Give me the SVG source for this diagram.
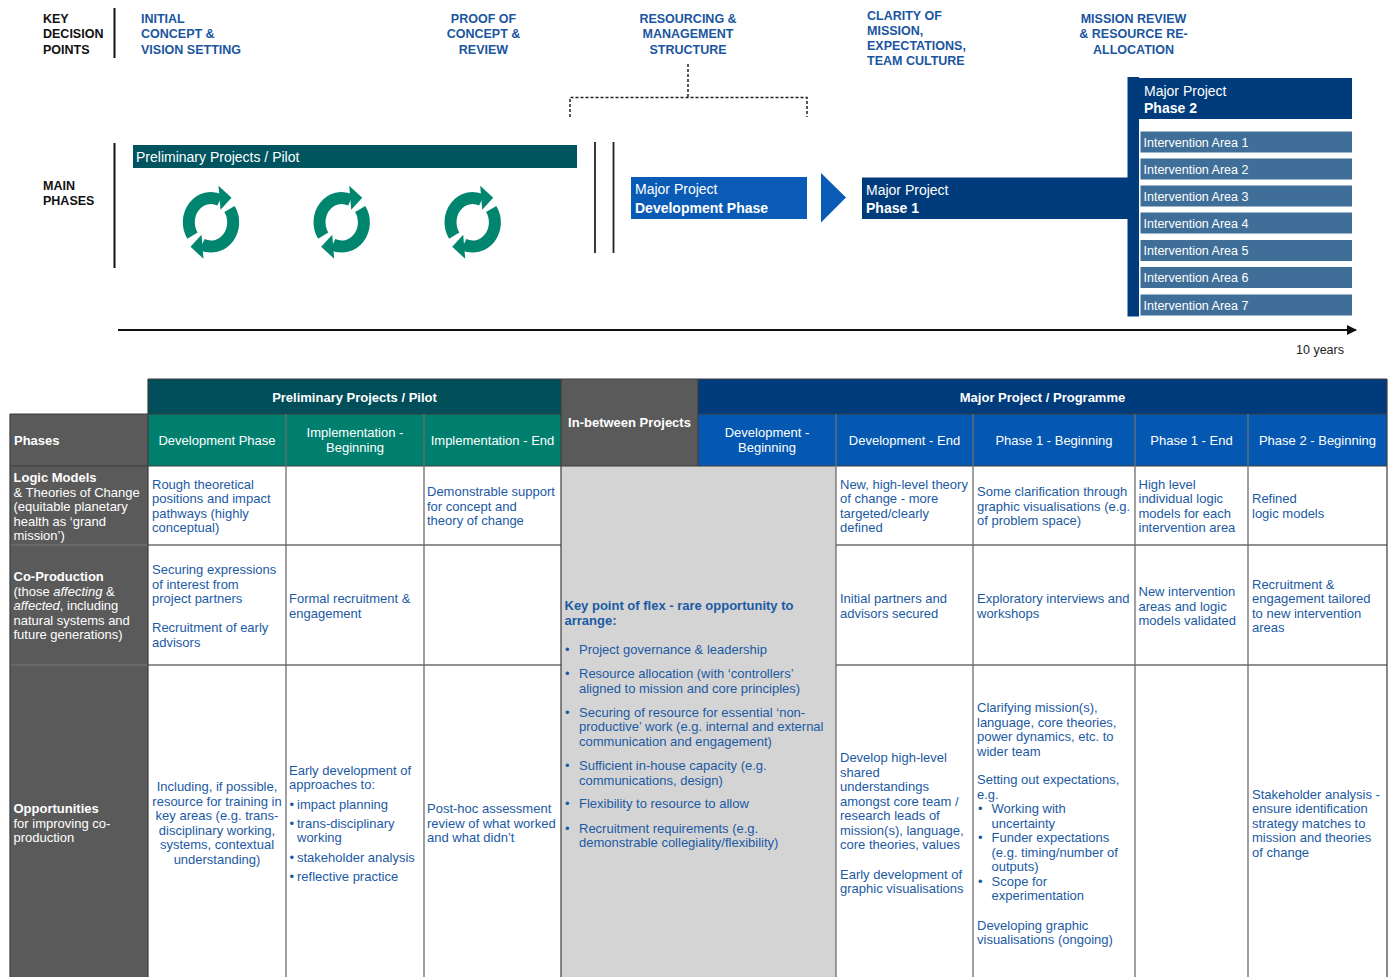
<svg xmlns="http://www.w3.org/2000/svg" width="1391" height="977" viewBox="0 0 1391 977">
<style>
text{font-family:"Liberation Sans",Arial,Helvetica,sans-serif;font-size:13px}
.k{font-size:12.5px;font-weight:bold;fill:#111}
.d{font-size:12.5px;font-weight:bold;fill:#1a55a0}
.w{fill:#fff}
.b{font-weight:bold}
.p{fill:#1b5aa3}
.m{text-anchor:middle}
.bx{font-size:14px;fill:#fff}
.ia{font-size:12.5px;fill:#fff}
.grid{stroke:#6e6e6e;stroke-width:1.3;fill:none}
.hl{stroke:#3c3c3c;stroke-width:1.2;fill:none}
</style>
<defs>
<g id="half">
<path d="M-18.5,13.3 A22.2,24.2 0 0 1 9,-22.2" fill="none" stroke="#00856f" stroke-width="12"/>
<polygon points="7.5,-36.5 20.5,-24.5 9.5,-12.5" fill="#00856f"/>
</g>
<g id="cycle">
<use href="#half"/>
<use href="#half" transform="rotate(180)"/>
</g>
<marker id="ah" viewBox="0 0 10 10" refX="9" refY="5" markerWidth="5" markerHeight="5" orient="auto" markerUnits="strokeWidth">
<path d="M0,0 L10,5 L0,10 z" fill="#111"/>
</marker>
</defs>
<rect width="1391" height="977" fill="#fff"/>

<!-- key decision points -->
<g id="key-decision-points">
<text class="k" x="43" y="23">KEY</text>
<text class="k" x="43" y="38">DECISION</text>
<text class="k" x="43" y="53.5">POINTS</text>
<line x1="114.5" y1="8" x2="114.5" y2="58" stroke="#111" stroke-width="2"/>
</g>
<g id="dp-initial">
<text class="d" x="141" y="23">INITIAL</text>
<text class="d" x="141" y="38">CONCEPT &amp;</text>
<text class="d" x="141" y="53.5">VISION SETTING</text>
</g>
<g id="dp-proof">
<text class="d m" x="483.5" y="23">PROOF OF</text>
<text class="d m" x="483.5" y="38">CONCEPT &amp;</text>
<text class="d m" x="483.5" y="53.5">REVIEW</text>
</g>
<g id="dp-resourcing">
<text class="d m" x="688" y="23">RESOURCING &amp;</text>
<text class="d m" x="688" y="38">MANAGEMENT</text>
<text class="d m" x="688" y="53.5">STRUCTURE</text>
</g>
<g id="dp-clarity">
<text class="d" x="867" y="19.5">CLARITY OF</text>
<text class="d" x="867" y="34.5">MISSION,</text>
<text class="d" x="867" y="49.5">EXPECTATIONS,</text>
<text class="d" x="867" y="64.5">TEAM CULTURE</text>
</g>
<g id="dp-mission-review">
<text class="d m" x="1133.5" y="23">MISSION REVIEW</text>
<text class="d m" x="1133.5" y="38">&amp; RESOURCE RE-</text>
<text class="d m" x="1133.5" y="53.5">ALLOCATION</text>
</g>

<!-- main phases -->
<g id="main-phases">
<text class="k" x="43" y="189.5">MAIN</text>
<text class="k" x="43" y="205">PHASES</text>
<line x1="114.5" y1="143" x2="114.5" y2="268" stroke="#111" stroke-width="2"/>
</g>
<g id="preliminary-pilot">
<rect x="133" y="145" width="444" height="23" fill="#00545f"/>
<text class="bx" x="136" y="162">Preliminary Projects / Pilot</text>
<use href="#cycle" transform="translate(211,222.3)"/>
<use href="#cycle" transform="translate(341.7,222.3)"/>
<use href="#cycle" transform="translate(472.7,222.3)"/>
</g>
<g id="separator">
<line x1="595" y1="142" x2="595" y2="253" stroke="#222" stroke-width="1.8"/>
<line x1="613.5" y1="142" x2="613.5" y2="253" stroke="#222" stroke-width="1.8"/>
</g>
<g id="major-dev-phase">
<rect x="631" y="177" width="176" height="42" fill="#0a5bb5"/>
<text class="bx" x="635" y="194">Major Project</text>
<text class="bx b" x="635" y="212.5">Development Phase</text>
</g>
<g id="major-phase-1">
<rect x="862" y="177.5" width="268" height="41.5" fill="#003b7b"/>
<text class="bx" x="866" y="195">Major Project</text>
<text class="bx b" x="866" y="213">Phase 1</text>
</g>
<g id="phase-bar">
<rect x="1127.5" y="77" width="11.5" height="239.5" fill="#003b7b"/>
</g>
<g id="major-phase-2">
<rect x="1139" y="78" width="213" height="41" fill="#003b7b"/>
<text class="bx" x="1144" y="95.5">Major Project</text>
<text class="bx b" x="1144" y="113">Phase 2</text>
</g>
<g id="intervention-areas">
<rect x="1140.5" y="131.5" width="211.5" height="21" fill="#3f6f99"/>
<text class="ia" x="1143.5" y="146.5">Intervention Area 1</text>
<rect x="1140.5" y="158.5" width="211.5" height="21" fill="#3f6f99"/>
<text class="ia" x="1143.5" y="173.5">Intervention Area 2</text>
<rect x="1140.5" y="185.5" width="211.5" height="21" fill="#3f6f99"/>
<text class="ia" x="1143.5" y="200.5">Intervention Area 3</text>
<rect x="1140.5" y="212.5" width="211.5" height="21" fill="#3f6f99"/>
<text class="ia" x="1143.5" y="227.5">Intervention Area 4</text>
<rect x="1140.5" y="240" width="211.5" height="21" fill="#3f6f99"/>
<text class="ia" x="1143.5" y="255">Intervention Area 5</text>
<rect x="1140.5" y="267" width="211.5" height="21" fill="#3f6f99"/>
<text class="ia" x="1143.5" y="282">Intervention Area 6</text>
<rect x="1140.5" y="294.5" width="211.5" height="21" fill="#3f6f99"/>
<text class="ia" x="1143.5" y="309.5">Intervention Area 7</text>
</g>
<g id="time-label">
<text x="1296" y="354" style="font-size:12.5px;fill:#222">10 years</text>
</g>

<!-- connectors -->
<g id="connectors">
<path d="M688,64 V97.5 M570,117 V97.5 H807 V117" fill="none" stroke="#222" stroke-width="1.5" stroke-dasharray="3,2"/>
<polygon points="821,173 846,197.5 821,222.5" fill="#0a5bb5"/>
<line x1="118" y1="330" x2="1356" y2="330" stroke="#111" stroke-width="2" marker-end="url(#ah)"/>
</g>

<!-- table -->
<g id="table">
<rect x="148" y="379" width="413" height="35" fill="#004e5a"/>
<rect x="561" y="379" width="137" height="87" fill="#5a5a5a"/>
<rect x="698" y="379" width="689" height="35" fill="#003b7b"/>
<rect x="10" y="414" width="138" height="52" fill="#5a5a5a"/>
<rect x="148" y="414" width="413" height="52" fill="#007f6f"/>
<rect x="698" y="414" width="689" height="52" fill="#0458b1"/>
<rect x="10" y="466" width="138" height="511" fill="#5a5a5a"/>
<rect x="561" y="466" width="275" height="511" fill="#d4d4d4"/>

<path class="hl" d="M148,379 H1387 M10,414 H561 M698,414 H1387 M10,466 H1387"/>
<path class="grid" d="M10,545 H561 M836,545 H1387 M10,665 H561 M836,665 H1387"/>
<path class="hl" d="M10,414 V977 M148,379 V977 M561,379 V977 M698,379 V466 M1387,379 V977"/>
<path class="grid" d="M286,414 V977 M424,414 V977 M836,414 V977 M973,414 V977 M1135,414 V977 M1248,414 V977"/>

<text class="w b m" x="354.5" y="401.5">Preliminary Projects / Pilot</text>
<text class="w b m" x="629.5" y="427">In-between Projects</text>
<text class="w b m" x="1042.5" y="401.5">Major Project / Programme</text>
<text class="w b" x="14" y="445">Phases</text>
<text class="w m" x="217" y="444.5">Development Phase</text>
<text class="w m" x="355" y="437">Implementation -</text>
<text class="w m" x="355" y="452">Beginning</text>
<text class="w m" x="492.5" y="444.5">Implementation - End</text>
<text class="w m" x="767" y="437">Development -</text>
<text class="w m" x="767" y="452">Beginning</text>
<text class="w m" x="904.5" y="444.5">Development - End</text>
<text class="w m" x="1054" y="444.5">Phase 1 - Beginning</text>
<text class="w m" x="1191.5" y="444.5">Phase 1 - End</text>
<text class="w m" x="1317.5" y="444.5">Phase 2 - Beginning</text>

<!-- row 1 -->
<text class="w b" x="13.5" y="482">Logic Models</text>
<text class="w" x="13.5" y="496.5">&amp; Theories of Change</text>
<text class="w" x="13.5" y="511">(equitable planetary</text>
<text class="w" x="13.5" y="525.5">health as ‘grand</text>
<text class="w" x="13.5" y="540">mission’)</text>

<text class="p" x="152" y="488.5">Rough theoretical</text>
<text class="p" x="152" y="503">positions and impact</text>
<text class="p" x="152" y="517.5">pathways (highly</text>
<text class="p" x="152" y="532">conceptual)</text>

<text class="p" x="427" y="496">Demonstrable support</text>
<text class="p" x="427" y="510.5">for concept and</text>
<text class="p" x="427" y="525">theory of change</text>

<text class="p" x="840" y="488.5">New, high-level theory</text>
<text class="p" x="840" y="503">of change - more</text>
<text class="p" x="840" y="517.5">targeted/clearly</text>
<text class="p" x="840" y="532">defined</text>

<text class="p" x="977" y="496">Some clarification through</text>
<text class="p" x="977" y="510.5">graphic visualisations (e.g.</text>
<text class="p" x="977" y="525">of problem space)</text>

<text class="p" x="1138.5" y="488.5">High level</text>
<text class="p" x="1138.5" y="503">individual logic</text>
<text class="p" x="1138.5" y="517.5">models for each</text>
<text class="p" x="1138.5" y="532">intervention area</text>

<text class="p" x="1252" y="503">Refined</text>
<text class="p" x="1252" y="517.5">logic models</text>

<!-- row 2 -->
<text class="w b" x="13.5" y="581">Co-Production</text>
<text class="w" x="13.5" y="595.5">(those <tspan font-style="italic">affecting</tspan> &amp;</text>
<text class="w" x="13.5" y="610"><tspan font-style="italic">affected</tspan>, including</text>
<text class="w" x="13.5" y="624.5">natural systems and</text>
<text class="w" x="13.5" y="639">future generations)</text>

<text class="p" x="152" y="574">Securing expressions</text>
<text class="p" x="152" y="588.5">of interest from</text>
<text class="p" x="152" y="603">project partners</text>
<text class="p" x="152" y="632">Recruitment of early</text>
<text class="p" x="152" y="646.5">advisors</text>

<text class="p" x="289" y="603">Formal recruitment &amp;</text>
<text class="p" x="289" y="617.5">engagement</text>

<text class="p" x="840" y="603">Initial partners and</text>
<text class="p" x="840" y="617.5">advisors secured</text>

<text class="p" x="977" y="603">Exploratory interviews and</text>
<text class="p" x="977" y="617.5">workshops</text>

<text class="p" x="1138.5" y="596">New intervention</text>
<text class="p" x="1138.5" y="610.5">areas and logic</text>
<text class="p" x="1138.5" y="625">models validated</text>

<text class="p" x="1252" y="588.5">Recruitment &amp;</text>
<text class="p" x="1252" y="603">engagement tailored</text>
<text class="p" x="1252" y="617.5">to new intervention</text>
<text class="p" x="1252" y="632">areas</text>

<!-- in-between / flex column -->
<text class="p b" x="564.5" y="609.5">Key point of flex - rare opportunity to</text>
<text class="p b" x="564.5" y="625">arrange:</text>
<text class="p" x="565" y="653.5">•</text><text class="p" x="579" y="653.5">Project governance &amp; leadership</text>
<text class="p" x="565" y="678">•</text><text class="p" x="579" y="678">Resource allocation (with ‘controllers’</text>
<text class="p" x="579" y="692.5">aligned to mission and core principles)</text>
<text class="p" x="565" y="716.5">•</text><text class="p" x="579" y="716.5">Securing of resource for essential ‘non-</text>
<text class="p" x="579" y="731">productive’ work (e.g. internal and external</text>
<text class="p" x="579" y="745.5">communication and engagement)</text>
<text class="p" x="565" y="770">•</text><text class="p" x="579" y="770">Sufficient in-house capacity (e.g.</text>
<text class="p" x="579" y="784.5">communications, design)</text>
<text class="p" x="565" y="808">•</text><text class="p" x="579" y="808">Flexibility to resource to allow</text>
<text class="p" x="565" y="832.5">•</text><text class="p" x="579" y="832.5">Recruitment requirements (e.g.</text>
<text class="p" x="579" y="847">demonstrable collegiality/flexibility)</text>

<!-- row 3 -->
<text class="w b" x="13.5" y="813">Opportunities</text>
<text class="w" x="13.5" y="827.5">for improving co-</text>
<text class="w" x="13.5" y="842">production</text>

<text class="p m" x="217" y="791">Including, if possible,</text>
<text class="p m" x="217" y="805.5">resource for training in</text>
<text class="p m" x="217" y="820">key areas (e.g. trans-</text>
<text class="p m" x="217" y="834.5">disciplinary working,</text>
<text class="p m" x="217" y="849">systems, contextual</text>
<text class="p m" x="217" y="864">understanding)</text>

<text class="p" x="289" y="774.5">Early development of</text>
<text class="p" x="289" y="789">approaches to:</text>
<text class="p" x="289.5" y="808.5">•</text><text class="p" x="297" y="808.5">impact planning</text>
<text class="p" x="289.5" y="827.5">•</text><text class="p" x="297" y="827.5">trans-disciplinary</text>
<text class="p" x="297" y="842">working</text>
<text class="p" x="289.5" y="861.5">•</text><text class="p" x="297" y="861.5">stakeholder analysis</text>
<text class="p" x="289.5" y="881">•</text><text class="p" x="297" y="881">reflective practice</text>

<text class="p" x="427" y="813">Post-hoc assessment</text>
<text class="p" x="427" y="827.5">review of what worked</text>
<text class="p" x="427" y="842">and what didn’t</text>

<text class="p" x="840" y="762">Develop high-level</text>
<text class="p" x="840" y="776.5">shared</text>
<text class="p" x="840" y="791">understandings</text>
<text class="p" x="840" y="805.5">amongst core team /</text>
<text class="p" x="840" y="820">research leads of</text>
<text class="p" x="840" y="834.5">mission(s), language,</text>
<text class="p" x="840" y="849">core theories, values</text>
<text class="p" x="840" y="878.5">Early development of</text>
<text class="p" x="840" y="893">graphic visualisations</text>

<text class="p" x="977" y="712">Clarifying mission(s),</text>
<text class="p" x="977" y="726.5">language, core theories,</text>
<text class="p" x="977" y="741">power dynamics, etc. to</text>
<text class="p" x="977" y="755.5">wider team</text>
<text class="p" x="977" y="784">Setting out expectations,</text>
<text class="p" x="977" y="798.5">e.g.</text>
<text class="p" x="978" y="813">•</text><text class="p" x="991.5" y="813">Working with</text>
<text class="p" x="991.5" y="827.5">uncertainty</text>
<text class="p" x="978" y="842">•</text><text class="p" x="991.5" y="842">Funder expectations</text>
<text class="p" x="991.5" y="856.5">(e.g. timing/number of</text>
<text class="p" x="991.5" y="871">outputs)</text>
<text class="p" x="978" y="885.5">•</text><text class="p" x="991.5" y="885.5">Scope for</text>
<text class="p" x="991.5" y="900">experimentation</text>
<text class="p" x="977" y="929.5">Developing graphic</text>
<text class="p" x="977" y="944">visualisations (ongoing)</text>

<text class="p" x="1252" y="798.5">Stakeholder analysis -</text>
<text class="p" x="1252" y="813">ensure identification</text>
<text class="p" x="1252" y="827.5">strategy matches to</text>
<text class="p" x="1252" y="842">mission and theories</text>
<text class="p" x="1252" y="856.5">of change</text>
</g>
</svg>
